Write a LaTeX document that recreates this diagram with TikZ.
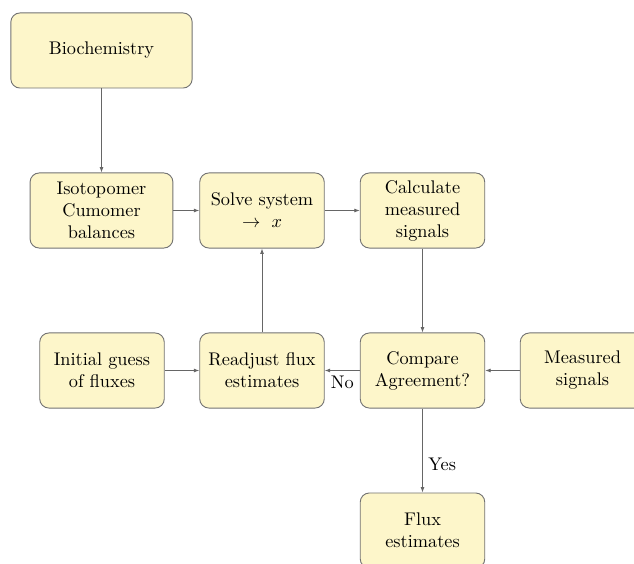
\documentclass[tikz,border=0pt]{standalone}
\usetikzlibrary{arrows.meta}
\definecolor{boxfill}{RGB}{253,246,202}
\begin{document}
\begin{tikzpicture}[x=0.546pt, y=-0.546pt,
  box/.style={draw=black!55, line width=0.5pt, fill=boxfill, rounded corners=5pt,
    align=center, minimum width=68pt, minimum height=41pt, inner sep=2pt},
  conn/.style={draw=black!60, line width=0.45pt, -{Latex[length=3pt,width=2.2pt]}},
  lbl/.style={font=\normalsize, inner sep=3pt}]
  \useasboundingbox (0,0) rectangle (634,563);
  \clip (0,0) rectangle (634,563);

  % processing nodes
  \node[box, minimum width=99pt] (bio) at (101.5,50.5) {Biochemistry};
  \node[box, minimum width=78pt] (iso) at (101.5,210.5) {Isotopomer\\Cumomer\\balances};
  \node[box] (solve) at (262,210.5) {Solve system\\$\rightarrow\ x$};
  \node[box] (calc) at (422.5,210.5) {Calculate\\measured\\signals};
  \node[box] (init) at (102,370.5) {Initial guess\\of fluxes};
  \node[box] (readj) at (262,370.5) {Readjust flux\\estimates};
  \node[box] (comp) at (422.5,370.5) {Compare\\Agreement?};
  \node[box] (meas) at (582.5,370.5) {Measured\\signals};
  \node[box] (flux) at (422.5,530.5) {Flux\\estimates};

  % connectors
  \draw[conn] (bio) -- (iso);
  \draw[conn] (iso) -- (solve);
  \draw[conn] (solve) -- (calc);
  \draw[conn] (calc) -- (comp);
  \draw[conn] (meas) -- (comp);
  \draw[conn] (comp) -- node[lbl, below] {No} (readj);
  \draw[conn] (readj) -- (solve);
  \draw[conn] (init) -- (readj);
  \draw[conn] (comp) -- node[lbl, right, pos=0.66] {Yes} (flux);
\end{tikzpicture}
\end{document}
